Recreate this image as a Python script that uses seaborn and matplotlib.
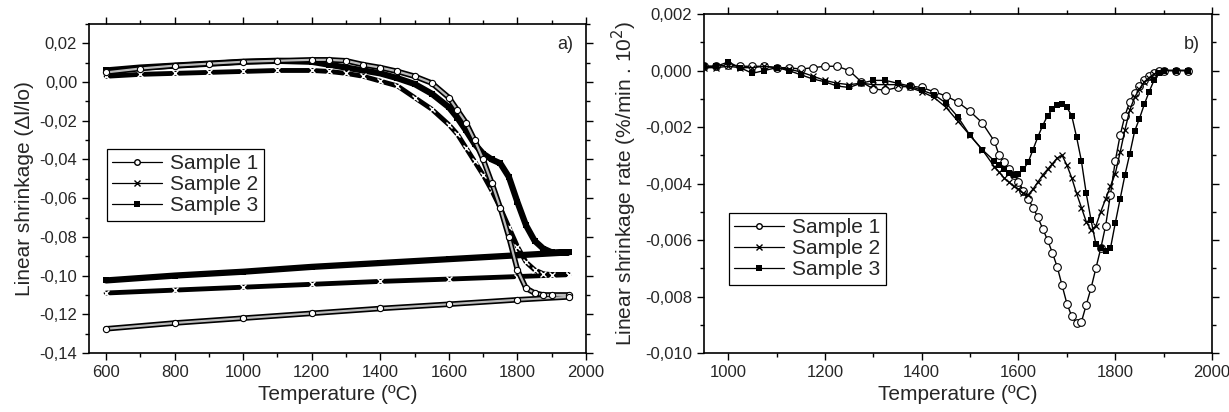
import numpy as np
import pandas as pd
import seaborn as sns
import matplotlib.pyplot as plt
from matplotlib.lines import Line2D
from matplotlib.ticker import MultipleLocator, FuncFormatter

sns.set_style("ticks")
plt.rcParams['font.family'] = ['Liberation Sans', 'DejaVu Sans']

# ---- a) dilatometric curves (heating up to 1950 then cooling back to 600)
temp_heat = [600, 700, 800, 900, 1000, 1100, 1200, 1250, 1300, 1350, 1400, 1450, 1500, 1550,
             1600, 1625, 1650, 1675, 1700, 1725, 1750, 1775, 1800, 1825, 1850, 1875, 1900, 1950]
temp_cool = [1950, 1800, 1600, 1400, 1200, 1000, 800, 600]

s1_heat = [0.005, 0.007, 0.0085, 0.0095, 0.0105, 0.011, 0.0115, 0.0115, 0.011, 0.009, 0.0075, 0.0055, 0.003, -0.0005,
           -0.008, -0.0145, -0.021, -0.030, -0.040, -0.052, -0.065, -0.080, -0.097, -0.1065, -0.109, -0.110, -0.110, -0.110]
s2_heat = [0.003, 0.004, 0.0045, 0.005, 0.0055, 0.006, 0.006, 0.0055, 0.0045, 0.003, 0.0005, -0.002, -0.008, -0.014,
           -0.022, -0.027, -0.034, -0.041, -0.048, -0.056, -0.065, -0.075, -0.085, -0.093, -0.097, -0.099, -0.0995, -0.0995]
s3_heat = [0.006, 0.0075, 0.0085, 0.0095, 0.0105, 0.011, 0.0105, 0.009, 0.0075, 0.006, 0.0045, 0.002, -0.001, -0.006,
           -0.013, -0.0185, -0.025, -0.032, -0.037, -0.040, -0.042, -0.049, -0.062, -0.074, -0.082, -0.086, -0.088, -0.088]

s1_cool = [-0.111, -0.1125, -0.1148, -0.117, -0.1195, -0.122, -0.1245, -0.1275]
s2_cool = [-0.0995, -0.1005, -0.1018, -0.103, -0.1045, -0.106, -0.1075, -0.109]
s3_cool = [-0.088, -0.0895, -0.0915, -0.0935, -0.0955, -0.098, -0.100, -0.1025]

# ---- b) shrinkage rate (units of 10^-3)
temp_rate = [950, 975, 1000, 1025, 1050, 1075, 1100, 1125, 1150, 1175, 1200, 1225, 1250, 1275, 1300,
             1325, 1350, 1375, 1400, 1425, 1450, 1475, 1500, 1525, 1550,
             1560, 1570, 1580, 1590, 1600, 1610, 1620, 1630, 1640, 1650, 1660, 1670, 1680, 1690, 1700,
             1710, 1720, 1730, 1740, 1750, 1760, 1770, 1780, 1790, 1800, 1810, 1820, 1830, 1840, 1850,
             1860, 1870, 1880, 1890, 1900, 1925, 1950]
r1 = [0.15, 0.15, 0.2, 0.15, 0.15, 0.15, 0.1, 0.1, 0.05, 0.1, 0.15, 0.15, 0.0, -0.4, -0.65,
      -0.7, -0.6, -0.55, -0.6, -0.75, -0.9, -1.12, -1.45, -1.85, -2.5,
      -3.0, -3.25, -3.5, -3.7, -3.95, -4.25, -4.55, -4.85, -5.2, -5.6, -6.0, -6.45, -6.95, -7.6, -8.25,
      -8.7, -8.95, -8.9, -8.3, -7.7, -7.0, -6.3, -5.5, -4.4, -3.2, -2.3, -1.6, -1.1, -0.8, -0.55,
      -0.35, -0.2, -0.1, -0.03, 0.0, 0.0, 0.0]
r2 = [0.1, 0.1, 0.15, 0.1, 0.1, 0.15, 0.1, 0.05, -0.05, -0.2, -0.35, -0.45, -0.5, -0.45, -0.5,
      -0.5, -0.5, -0.6, -0.75, -0.95, -1.3, -1.8, -2.3, -2.8, -3.4,
      -3.6, -3.8, -3.95, -4.1, -4.2, -4.35, -4.4, -4.2, -3.95, -3.7, -3.5, -3.3, -3.1, -3.0, -3.35,
      -3.8, -4.35, -4.85, -5.35, -5.65, -5.5, -5.0, -4.55, -4.1, -3.65, -2.9, -2.1, -1.4, -0.95, -0.65,
      -0.4, -0.25, -0.12, -0.05, 0.0, 0.0, 0.0]
r3 = [0.15, 0.15, 0.3, 0.1, -0.1, 0.0, 0.1, 0.0, -0.15, -0.3, -0.4, -0.55, -0.6, -0.45, -0.35,
      -0.35, -0.45, -0.55, -0.7, -0.85, -1.15, -1.65, -2.3, -2.8, -3.2,
      -3.35, -3.5, -3.62, -3.7, -3.65, -3.5, -3.25, -2.8, -2.35, -1.95, -1.6, -1.38, -1.22, -1.18, -1.3,
      -1.6, -2.35, -3.2, -4.35, -5.3, -6.15, -6.3, -6.4, -6.3, -5.4, -4.55, -3.7, -2.95, -2.15, -1.7,
      -1.2, -0.75, -0.35, -0.1, 0.0, 0.0, 0.0]

labels = ["Sample 1", "Sample 2", "Sample 3"]

shrink = pd.concat([
    pd.DataFrame({"T": temp_heat + temp_cool, "dl": h + c, "sample": lab})
    for h, c, lab in zip([s1_heat, s2_heat, s3_heat], [s1_cool, s2_cool, s3_cool], labels)
], ignore_index=True)
rate = pd.concat([
    pd.DataFrame({"T": temp_rate, "rate": np.array(r) * 1e-3, "sample": lab})
    for r, lab in zip([r1, r2, r3], labels)
], ignore_index=True)

fig = plt.figure(figsize=(12.29, 4.12), dpi=100)
ax1 = fig.add_axes([0.0724, 0.1432, 0.4044, 0.7985])
ax2 = fig.add_axes([0.5728, 0.1432, 0.4134, 0.8228])

# panel a
d = shrink[shrink["sample"] == "Sample 3"]
sns.lineplot(data=d, x="T", y="dl", sort=False, estimator=None, ax=ax1, color="black", lw=4.5,
             marker="s", markersize=4, markeredgewidth=0)
d = shrink[shrink["sample"] == "Sample 2"]
sns.lineplot(data=d, x="T", y="dl", sort=False, estimator=None, ax=ax1, color="black", lw=3.5,
             marker="x", markersize=5, markeredgewidth=1)
d = shrink[shrink["sample"] == "Sample 1"]
sns.lineplot(data=d, x="T", y="dl", sort=False, estimator=None, ax=ax1, color="black", lw=4)
sns.lineplot(data=d, x="T", y="dl", sort=False, estimator=None, ax=ax1, color="#bbbbbb", lw=1.6,
             marker="o", markersize=4.5, markerfacecolor="white", markeredgecolor="black", markeredgewidth=0.8)

# panel b
styles = {
    "Sample 1": dict(marker="o", markersize=5.5, markerfacecolor="white", markeredgecolor="black", markeredgewidth=0.8),
    "Sample 2": dict(marker="x", markersize=5, markeredgecolor="black", markeredgewidth=0.9),
    "Sample 3": dict(marker="s", markersize=4.5, markerfacecolor="black", markeredgewidth=0),
}
for lab in labels:
    d = rate[rate["sample"] == lab]
    sns.lineplot(data=d, x="T", y="rate", sort=False, estimator=None, ax=ax2, color="black", lw=1,
                 **styles[lab])

comma = lambda n: FuncFormatter(lambda v, p: f"{v:.{n}f}".replace(".", ","))

ax1.set_xlim(550, 2000)
ax1.set_ylim(-0.14, 0.03)
ax1.xaxis.set_major_locator(MultipleLocator(200))
ax1.xaxis.set_minor_locator(MultipleLocator(100))
ax1.yaxis.set_major_locator(MultipleLocator(0.02))
ax1.yaxis.set_minor_locator(MultipleLocator(0.01))
ax1.yaxis.set_major_formatter(comma(2))
ax1.set_xlabel("Temperature (ºC)", fontsize=15)
ax1.set_ylabel("Linear shrinkage (\u0394l/lo)", fontsize=15)
ax1.text(0.975, 0.965, "a)", transform=ax1.transAxes, ha="right", va="top", fontsize=13)

ax2.set_xlim(950, 2000)
ax2.set_ylim(-0.010, 0.002)
ax2.xaxis.set_major_locator(MultipleLocator(200))
ax2.xaxis.set_minor_locator(MultipleLocator(100))
ax2.yaxis.set_major_locator(MultipleLocator(0.002))
ax2.yaxis.set_minor_locator(MultipleLocator(0.001))
ax2.yaxis.set_major_formatter(comma(3))
ax2.set_xlabel("Temperature (ºC)", fontsize=15)
ax2.set_ylabel("Linear shrinkage rate (%/min . 10$^2$)", fontsize=15)
ax2.text(0.975, 0.935, "b)", transform=ax2.transAxes, ha="right", va="top", fontsize=13)

for ax in (ax1, ax2):
    for s in ax.spines.values():
        s.set_visible(True)
        s.set_linewidth(1.2)
        s.set_color("black")
    ax.tick_params(which="both", direction="out", top=True, right=True, labelsize=12, color="black")
    ax.tick_params(which="major", length=5, width=1)
    ax.tick_params(which="minor", length=3, width=1)

handles = [
    Line2D([], [], color="black", lw=0.9, marker="o", markersize=4, markerfacecolor="white", markeredgecolor="black"),
    Line2D([], [], color="black", lw=0.9, marker="x", markersize=4.5, markeredgecolor="black"),
    Line2D([], [], color="black", lw=0.9, marker="s", markersize=4, markerfacecolor="black", markeredgewidth=0),
]
for ax, anchor in ((ax1, (0.036, 0.62)), (ax2, (0.049, 0.413))):
    leg = ax.legend(handles, labels, loc="upper left", bbox_to_anchor=anchor, fontsize=15,
                    fancybox=False, framealpha=1, edgecolor="black", handlelength=2.4,
                    borderpad=0.25, labelspacing=0.1, handletextpad=0.4, borderaxespad=0)
    leg.get_frame().set_linewidth(0.9)

fig.savefig("out.png", dpi=100)
